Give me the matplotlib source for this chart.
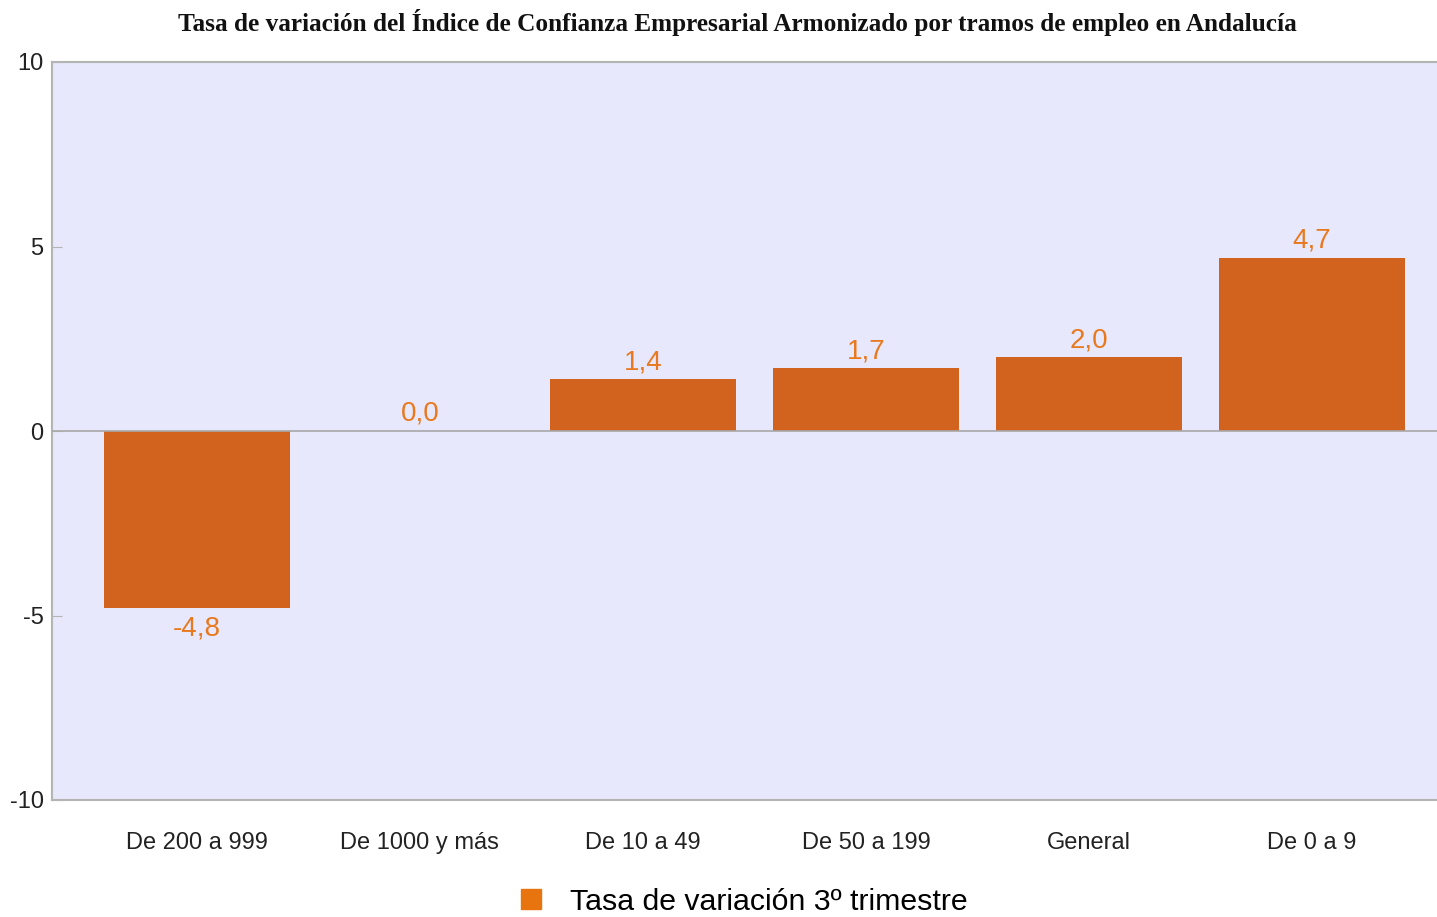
import numpy as np
import matplotlib.pyplot as plt
from matplotlib.patches import Patch

categorias = ["De 200 a 999", "De 1000 y más", "De 10 a 49", "De 50 a 199", "General", "De 0 a 9"]
valores = [-4.8, 0.0, 1.4, 1.7, 2.0, 4.7]
serie = "Tasa de variación 3º trimestre"
titulo = "Tasa de variación del Índice de Confianza Empresarial Armonizado por tramos de empleo en Andalucía"
yticks = [-10, -5, 0, 5, 10]

color_barra = "#D2631E"
color_etiqueta = "#E8791E"
color_leyenda = "#E8740F"
fondo = "#E8E8FC"
gris = "#B4B4B4"

plt.rcParams['font.family'] = ['Liberation Sans', 'DejaVu Sans']

fig = plt.figure(figsize=(14.37, 9.17), dpi=100)
ax = fig.add_axes([52/1437, 1 - 800/917, 1 - 52/1437, (800 - 62)/917])
ax.set_facecolor(fondo)

x = np.arange(len(categorias))
ax.bar(x, valores, width=0.834, color=color_barra, zorder=2)
ax.axhline(0, color="#A8A8A8", lw=1.2, zorder=3)

for xi, v in zip(x, valores):
    txt = f"{v:.1f}".replace(".", ",")
    if v < 0:
        ax.annotate(txt, (xi, v), xytext=(0, -5), textcoords="offset points",
                    ha="center", va="top", color=color_etiqueta, fontsize=20)
    else:
        ax.annotate(txt, (xi, v), xytext=(0, 3), textcoords="offset points",
                    ha="center", va="bottom", color=color_etiqueta, fontsize=20)

ax.set_xlim(-0.650, 5.561)
ax.set_ylim(-10, 10)
ax.set_yticks(yticks)
ax.set_yticklabels([str(t) for t in yticks], fontsize=17, color="#222222")
ax.set_xticks(x)
ax.set_xticklabels(categorias, fontsize=17, color="#222222")
ax.tick_params(axis="x", length=0, pad=23)
ax.tick_params(axis="y", direction="in", length=7, color=gris, pad=6)

for s in ["top", "left", "bottom"]:
    ax.spines[s].set_color(gris)
    ax.spines[s].set_linewidth(1.5)
ax.spines["right"].set_visible(False)

fig.text(737/1437, 1 - 22/917, titulo, ha="center", va="center", fontsize=18.2,
         fontweight="bold", family="Liberation Serif", color="#111111")

fig.legend(handles=[Patch(color=color_leyenda, label=serie)], loc="center",
           bbox_to_anchor=(0.518, 1 - 902/917), frameon=False, fontsize=21.8,
           handlelength=0.65, handleheight=0.65, handletextpad=0.97)

fig.savefig("out.png", dpi=100)
